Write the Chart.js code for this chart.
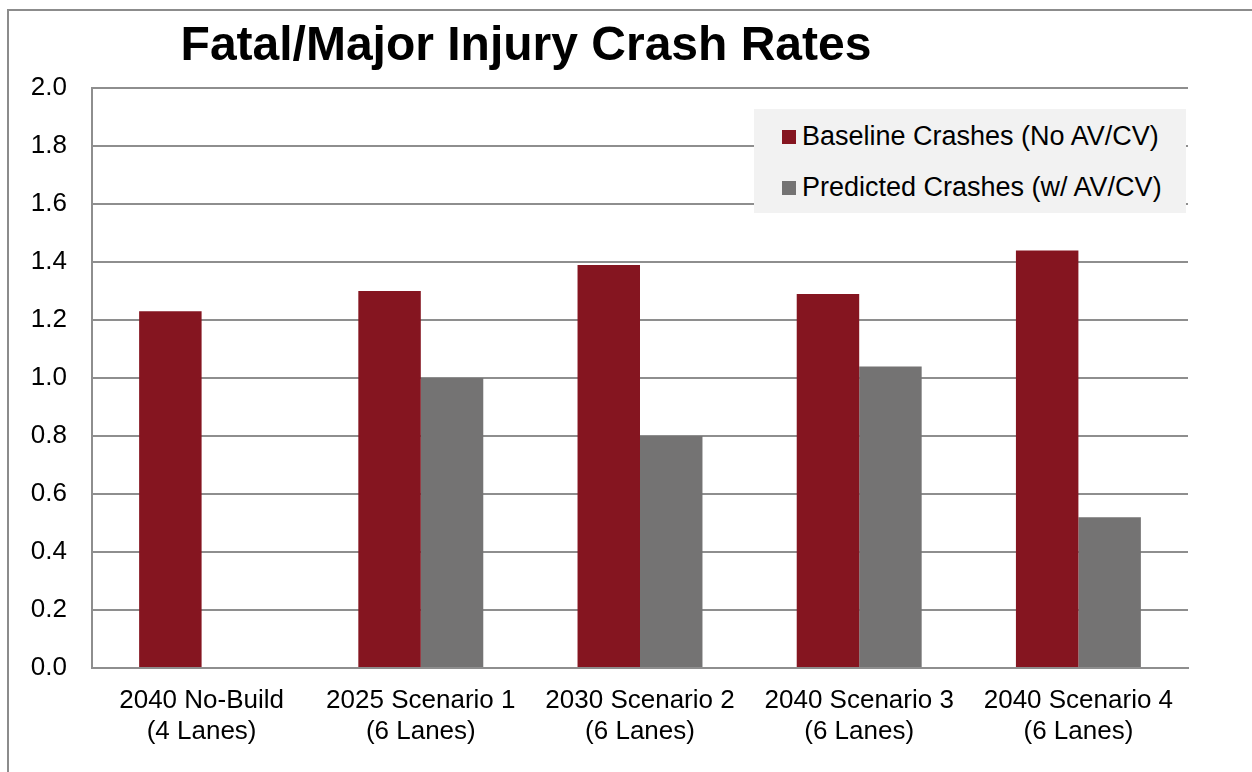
<!DOCTYPE html>
<html>
<head>
<meta charset="utf-8">
<script src="https://cdn.jsdelivr.net/npm/chart.js@4/dist/chart.umd.min.js"></script>
<style>
  html, body { margin: 0; padding: 0; background: #fff; }
  #wrap { position: relative; width: 1252px; height: 772px; overflow: hidden; font-family: "Liberation Sans", Arial, sans-serif; }
  #frame { position: absolute; left: 7px; top: 9px; width: 1300px; height: 800px; border-left: 2px solid #8c8c8c; border-top: 2px solid #8c8c8c; }
  #title { position: absolute; left: 0; width: 1052px; top: 16px; line-height: 56px; text-align: center; font-size: 48px; font-weight: bold; color: #000; margin: 0; }
  #chart { position: absolute; left: 0; top: 0; }
  #legend { position: absolute; left: 754px; top: 109px; width: 432px; height: 104px; background: #f2f2f2; }
  .item { position: absolute; left: 28px; font-size: 27px; line-height: 30px; color: #000; white-space: nowrap; }
  .box { display: inline-block; width: 14px; height: 14px; margin-right: 6px; vertical-align: 1px; }
</style>
</head>
<body>
<div id="wrap">
  <div id="frame"></div>
  <canvas id="chart" width="1252" height="772"></canvas>
  <h1 id="title">Fatal/Major Injury Crash Rates</h1>
  <div id="legend"></div>
</div>
<script>
let categories = [
  ['2040 No-Build', '(4 Lanes)'],
  ['2025 Scenario 1', '(6 Lanes)'],
  ['2030 Scenario 2', '(6 Lanes)'],
  ['2040 Scenario 3', '(6 Lanes)'],
  ['2040 Scenario 4', '(6 Lanes)']
];
let baseline = [1.23, 1.30, 1.39, 1.29, 1.44];
let predicted = [null, 1.00, 0.80, 1.04, 0.52];
let seriesNames = ['Baseline Crashes (No AV/CV)', 'Predicted Crashes (w/ AV/CV)'];
let seriesColors = ['#851520', '#747373'];

let gridColor = '#8e8e8e';
let tickFont = { family: '"Liberation Sans", Arial, sans-serif', size: 26 };

let ctx = document.getElementById('chart').getContext('2d');
let chart = new Chart(ctx, {
  type: 'bar',
  data: {
    labels: categories,
    datasets: [{
      label: seriesNames[0],
      data: baseline,
      backgroundColor: seriesColors[0],
      categoryPercentage: 0.57,
      barPercentage: 1.0
    }, {
      label: seriesNames[1],
      data: predicted,
      backgroundColor: seriesColors[1],
      categoryPercentage: 0.57,
      barPercentage: 1.0
    }]
  },
  options: {
    responsive: false,
    animation: false,
    layout: { padding: { top: 88, right: 64, left: 0, bottom: 0 } },
    plugins: {
      legend: { display: false },
      title: { display: false },
      tooltip: { enabled: false }
    },
    scales: {
      x: {
        grid: { display: false, drawTicks: false },
        border: { display: true, color: gridColor, width: 2 },
        ticks: { color: '#000', font: Object.assign({ lineHeight: 1.2 }, tickFont), padding: 17, maxRotation: 0, autoSkip: false },
        afterFit: scale => { scale.height = 104; }
      },
      y: {
        min: 0,
        max: 2.0,
        grid: { color: gridColor, lineWidth: 2, drawTicks: false },
        border: { display: true, color: gridColor, width: 2 },
        ticks: {
          stepSize: 0.2,
          color: '#000',
          font: tickFont,
          padding: 25,
          callback: v => v.toFixed(1)
        },
        afterFit: scale => { scale.width = 92; }
      }
    }
  }
});

// legend drawn as html so the text stays real text
let legend = document.getElementById('legend');
seriesNames.forEach((name, i) => {
  let item = document.createElement('div');
  item.className = 'item';
  item.style.top = (i == 0 ? 12 : 63) + 'px';
  item.innerHTML = '<span class="box" style="background:' + seriesColors[i] + '"></span>' + name;
  legend.appendChild(item);
});
</script>
</body>
</html>
